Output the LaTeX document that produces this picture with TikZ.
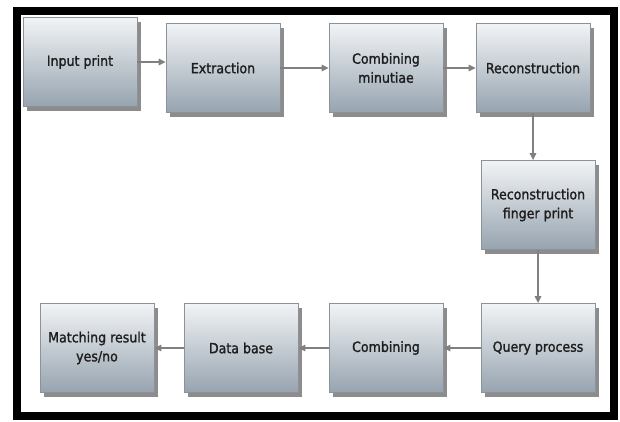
\documentclass[tikz,border=0pt]{standalone}
\usepackage{fontspec}
\newfontfamily\stagefont{DejaVu Sans Condensed}[BoldFont=DejaVu Sans Condensed, BoldFeatures={FakeBold=1.4}]
\usetikzlibrary{shadows,arrows.meta}
\definecolor{stagetop}{RGB}{242,244,246}
\definecolor{stagebot}{RGB}{150,163,175}
\definecolor{stageline}{RGB}{140,146,152}
\definecolor{stagetext}{RGB}{30,30,30}
\tikzset{
        stage/.style={rectangle, draw=stageline, line width=0.8pt, minimum width=114pt, minimum height=89pt,
          align=center, inner sep=2pt, top color=stagetop, bottom color=stagebot, text=stagetext,
          font=\stagefont\bfseries\fontsize{14}{19}\selectfont,
          drop shadow={shadow xshift=4pt, shadow yshift=-4pt, opacity=0.6, fill=black!75}},
        flow/.style={draw=gray, line width=1.4pt, -{Triangle[length=7pt, width=6.5pt]}}
          }

\begin{document}
\begin{tikzpicture}[x=1pt, y=-1pt]
        \fill[white] (0,0) rectangle (620,421);
        \useasboundingbox (0,0) rectangle (620,421);
        \draw[line width=7.5pt] (17,11) rectangle (614,416);
        % top row
        \node[stage] (input) at (80,62) {Input print};
        \node[stage] (extract) at (223,68) {Extraction};
        \node[stage] (combmin) at (386,68) {Combining\\minutiae};
        \node[stage] (recon) at (533,68) {Reconstruction};
        % right column
        \node[stage] (reconfp) at (538,205) {Reconstruction\\finger print};
        % bottom row
        \node[stage] (query) at (538,348) {Query process};
        \node[stage] (comb) at (386,348) {Combining};
        \node[stage] (database) at (241,348) {Data base};
        \node[stage] (match) at (97,348) {Matching result\\yes/no};
        % connections
        \draw[flow] (input.east) -- (input.east -| extract.west);
        \draw[flow] (extract.east) -- (combmin.west);
        \draw[flow] (combmin.east) -- (recon.west);
        \draw[flow] (recon.south) -- (recon.south |- reconfp.north);
        \draw[flow] (reconfp.south) -- (query.north);
        \draw[flow] (query.west) -- (comb.east);
        \draw[flow] (comb.west) -- (database.east);
        \draw[flow] (database.west) -- (match.east);
\end{tikzpicture}
\end{document}
